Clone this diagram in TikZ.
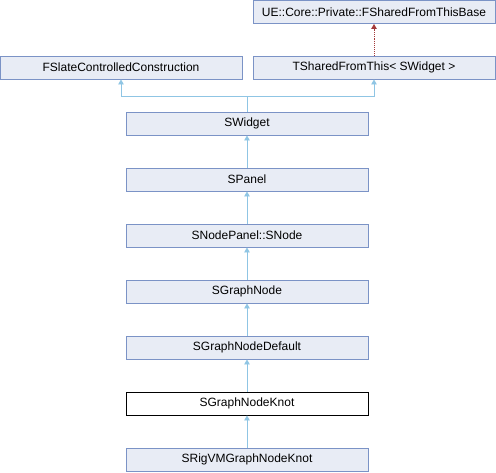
\documentclass[tikz,border=0pt]{standalone}
\usepackage{fontspec}
\setmainfont{Liberation Sans}
\usetikzlibrary{arrows.meta}
\definecolor{boxfill}{HTML}{E8ECF5}
\definecolor{boxline}{HTML}{7B93C6}
\definecolor{edgeblue}{HTML}{8FC5E4}
\definecolor{edgered}{HTML}{A33A3A}
\tikzset{
  cls/.style={draw=boxline, fill=boxfill, line width=0.9pt, minimum width=242pt, minimum height=23pt, inner sep=0pt, font=\fontsize{12pt}{13pt}\selectfont},
  clscur/.style={cls, draw=black, fill=white},
  inh/.style={draw=edgeblue, line width=0.9pt, -{Triangle[length=5pt,width=5.5pt,fill=edgeblue]}},
  inhred/.style={draw=edgered, line width=0.9pt, densely dotted, -{Triangle[length=5pt,width=5.5pt,fill=edgered,line width=0.9pt,sep=0pt]}},
}
\begin{document}
\begin{tikzpicture}[x=1pt,y=-1pt]
\useasboundingbox (0,0) rectangle (496,472);
\node[cls] (base) at (374,12) {UE::Core::Private::FSharedFromThisBase};
\node[cls] (fslate) at (121,67.5) {FSlateControlledConstruction};
\node[cls] (tshared) at (374,67.5) {TSharedFromThis< SWidget >};
\node[cls] (swidget) at (247,123.5) {SWidget};
\node[cls] (spanel) at (247,179.5) {SPanel};
\node[cls] (snode) at (247,235.5) {SNodePanel::SNode};
\node[cls] (sgraph) at (247,291.5) {SGraphNode};
\node[cls] (sgdef) at (247,347.5) {SGraphNodeDefault};
\node[clscur] (sknot) at (247,403.5) {SGraphNodeKnot};
\node[cls] (srig) at (247,459.5) {SRigVMGraphNodeKnot};
\coordinate (j) at (247,96);
\draw[inhred] (tshared.north) -- (base.south);
\draw[inh] (swidget.north) -- (j) -| (fslate.south);
\draw[inh] (j) -| (tshared.south);
\draw[inh] (spanel) -- (swidget);
\draw[inh] (snode) -- (spanel);
\draw[inh] (sgraph) -- (snode);
\draw[inh] (sgdef) -- (sgraph);
\draw[inh] (sknot) -- (sgdef);
\draw[inh] (srig) -- (sknot);
\end{tikzpicture}
\end{document}
